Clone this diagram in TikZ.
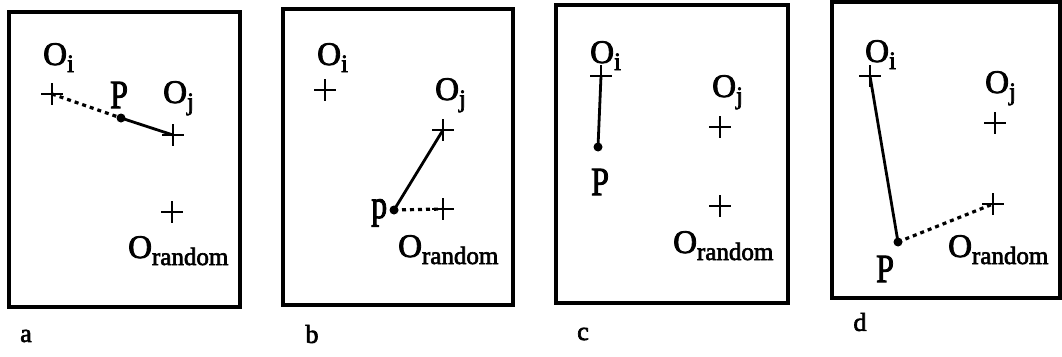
\documentclass[tikz,border=0pt]{standalone}
\usepackage{fontspec}
\setmainfont{Liberation Serif}[FakeBold=2.5]
\usetikzlibrary{shapes.misc}
\newcommand\Olab[1]{O\raisebox{-7pt}{\fontsize{25}{25}\selectfont #1}}
\newcommand\Plab[1]{\scalebox{1}[1.25]{#1}}
\tikzset{
  frame/.style={line width=3.2pt},
  crs/.style={cross out, draw, rotate=45, minimum size=13pt, inner sep=0pt, line width=2.4pt},
  pt/.style={circle, fill, inner sep=0pt, minimum size=9pt},
  lbl/.style={font=\fontsize{33}{36}\selectfont, inner sep=0pt, anchor=base west},
  plbl/.style={font=\fontsize{32}{36}\selectfont, inner sep=0pt, anchor=base west},
  panelcap/.style={font=\fontsize{26}{30}\selectfont, inner sep=0pt},
  solidln/.style={line width=2.8pt},
  dotln/.style={line width=3.2pt, dash pattern=on 4pt off 4pt},
}
\begin{document}
\begin{tikzpicture}[x=1pt,y=-1pt]
\useasboundingbox (0,0) rectangle (1062,356);
% ---------- panel a
\draw[frame] (9,12) rectangle (240,307);
\node[crs] (aoi) at (52,94) {};
\node[crs] (aoj) at (173,135) {};
\node[crs] (aor) at (172,212) {};
\node[pt] (ap) at (121,118) {};
\node[lbl] (aoil) at (43,65) {\Olab{i}};
\node[lbl] (aojl) at (163,103) {\Olab{j}};
\node[lbl] (aorl) at (128,258) {\Olab{random}};
\node[plbl] (apl) at (110,108) {\Plab{P}};
\node[panelcap] (capa) at (26,336) {a};
\draw[dotln] (aoi.center) -- (ap.center);
\draw[solidln] (ap.center) -- (aoj.center);
% ---------- panel b
\draw[frame] (283,9) rectangle (513,305);
\node[crs] (boi) at (325,90) {};
\node[crs] (boj) at (443,130) {};
\node[crs] (bor) at (443,209) {};
\node[pt] (bp) at (394,210) {};
\node[lbl] (boil) at (317,65) {\Olab{i}};
\node[lbl] (bojl) at (435,100) {\Olab{j}};
\node[lbl] (borl) at (398,257) {\Olab{random}};
\node[plbl] (bpl) at (371,218) {\Plab{p}};
\node[panelcap] (capb) at (312,334) {b};
\draw[solidln] (boj.center) -- (bp.center);
\draw[dotln] (bp.center) -- (bor.center);
% ---------- panel c
\draw[frame] (556,5) rectangle (788,303);
\node[crs] (coi) at (601,76) {};
\node[crs] (coj) at (720,127) {};
\node[crs] (cor) at (720,206) {};
\node[pt] (cp) at (598,147) {};
\node[lbl] (coil) at (590,63) {\Olab{i}};
\node[lbl] (cojl) at (712,97) {\Olab{j}};
\node[lbl] (corl) at (673,253) {\Olab{random}};
\node[plbl] (cpl) at (591,195) {\Plab{P}};
\node[panelcap] (capc) at (583,334) {c};
\draw[solidln] (coi.center) -- (cp.center);
% ---------- panel d
\draw[frame] (832,2) rectangle (1060,298);
\node[crs] (doi) at (870,76) {};
\node[crs] (doj) at (995,123) {};
\node[crs] (dor) at (993,204) {};
\node[pt] (dp) at (898,242) {};
\node[lbl] (doil) at (865,62) {\Olab{i}};
\node[lbl] (dojl) at (985,93) {\Olab{j}};
\node[lbl] (dorl) at (948,257) {\Olab{random}};
\node[plbl] (dpl) at (876,282) {\Plab{P}};
\node[panelcap] (capd) at (860,322) {d};
\draw[solidln] (doi.center) -- (dp.center);
\draw[dotln] (dp.center) -- (dor.center);
\end{tikzpicture}
\end{document}
